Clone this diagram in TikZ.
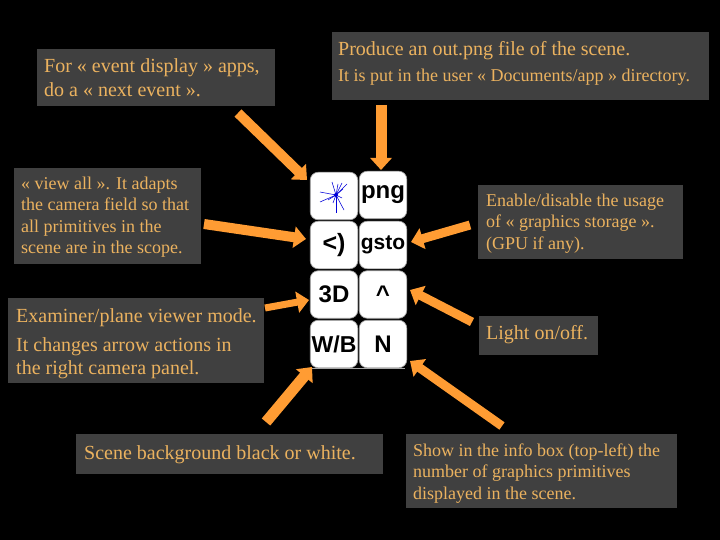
\documentclass[tikz,border=0pt]{standalone}
\usepackage{fontspec}
\setmainfont{Liberation Serif}
\setsansfont{Liberation Sans}
\usetikzlibrary{arrows.meta}
\definecolor{boxgrey}{HTML}{404040}
\definecolor{txtorange}{HTML}{EBB25F}
\definecolor{arroworange}{HTML}{FF9C33}
\tikzset{
  ntext/.style={anchor=base west,inner sep=0pt,text=txtorange,font=\fontsize{#1}{#1}\selectfont},
  btn/.style={draw=gray!70,line width=0.7pt,fill=white,rounded corners=8pt,minimum width=47.5pt,minimum height=47.5pt,inner sep=0pt,text=black,font=\fontsize{#1}{#1}\selectfont\sffamily\bfseries},
  blockarrow/.style={draw=arroworange,line width=#1,-{Triangle[length=12pt,width=21pt,color=arroworange]}},
  blockarrow/.default=10pt,
  ray/.style={draw=blue!85!black,line width=0.55pt}
}
\begin{document}
\begin{tikzpicture}[x=1pt,y=-1pt]
\useasboundingbox (0,0) rectangle (720,540);
\fill[black] (0,0) rectangle (720,540);
% note boxes
\fill[boxgrey] (37,49) rectangle (275,106);
\fill[boxgrey] (332,32) rectangle (709,100);
\fill[boxgrey] (14,168) rectangle (201,264);
\fill[boxgrey] (478,185) rectangle (683,259);
\fill[boxgrey] (479,316) rectangle (598,355);
\fill[boxgrey] (8,298) rectangle (264,383);
\fill[boxgrey] (76,434) rectangle (383,474);
\fill[boxgrey] (406,434) rectangle (677,508);
% texts
\node[ntext=20] (t1a) at (44,73) {For « event display » apps,};
\node[ntext=20] (t1b) at (44,97) {do a « next event ».};
\node[ntext=20] (t2a) at (338,56) {Produce an out.png file of the scene.};
\node[ntext=18] (t2b) at (338,82) {It is put in the user « Documents/app » directory.};
\node[ntext=18] (t3a) at (21,190) {« view all ». It adapts};
\node[ntext=18] (t3b) at (21,211) {the camera field so that};
\node[ntext=18] (t3c) at (21,233) {all primitives in the};
\node[ntext=18] (t3d) at (21,254) {scene are in the scope.};
\node[ntext=18] (t4a) at (486,207) {Enable/disable the usage};
\node[ntext=18] (t4b) at (486,228) {of « graphics storage ».};
\node[ntext=18] (t4c) at (486,249) {(GPU if any).};
\node[ntext=20] (t5) at (486,339) {Light on/off.};
\node[ntext=20] (t6a) at (16,322) {Examiner/plane viewer mode.};
\node[ntext=20] (t6b) at (16,351) {It changes arrow actions in};
\node[ntext=20] (t6c) at (16,374) {the right camera panel.};
\node[ntext=20] (t7) at (84,459) {Scene background black or white.};
\node[ntext=18] (t8a) at (413,456) {Show in the info box (top-left) the};
\node[ntext=18] (t8b) at (413,477) {number of graphics primitives};
\node[ntext=18] (t8c) at (413,499) {displayed in the scene.};
% faint line below buttons
\draw[gray!70,line width=0.5pt] (312,368.5) -- (405,368.5);
% buttons
\node[btn=20] (b1) at (334,196) {};
\node[btn=24] (b2) at (383,195) {png};
\node[btn=25] (b3) at (334,245) {<)};
\node[btn=21] (b4) at (383,245) {gsto};
\node[btn=24] (b5) at (334,294.5) {3D};
\node[btn=24] (b6) at (383,294.5) {\textasciicircum};
\node[btn=23] (b7) at (334,344) {W/B};
\node[btn=24] (b8) at (383,344) {N};
% star
\coordinate (st) at (336,195);
\foreach \dx/\dy in {-16/-3,-16/7,-4/-13,11/-11,6/-12,8/15,0/18,6/3,7/-6,-8/5,-3/8,2/-11}
  \draw[ray] (st) -- ++(\dx,\dy);
\fill[blue!85!black] (st) circle (2pt);
% arrows
\coordinate (a1) at (238,113); \coordinate (h1) at (307,180);
\coordinate (a2) at (204,224); \coordinate (h2) at (306,239);
\coordinate (a3) at (381,105); \coordinate (h3) at (381,170);
\coordinate (a4) at (470,225); \coordinate (h4) at (411,242);
\coordinate (a5) at (472,322); \coordinate (h5) at (410,290);
\coordinate (a6) at (265,308); \coordinate (h6) at (309,300);
\coordinate (a7) at (266,422); \coordinate (h7) at (312,367);
\coordinate (a8) at (502,426); \coordinate (h8) at (410,361);
\draw[blockarrow] (a1) -- (h1);
\draw[blockarrow] (a2) -- (h2);
\draw[blockarrow=11pt] (a3) -- (h3);
\draw[blockarrow=9pt] (a4) -- (h4);
\draw[blockarrow=9pt] (a5) -- (h5);
\draw[blockarrow=7pt] (a6) -- (h6);
\draw[blockarrow=11pt] (a7) -- (h7);
\draw[blockarrow=9pt] (a8) -- (h8);
\end{tikzpicture}
\end{document}
